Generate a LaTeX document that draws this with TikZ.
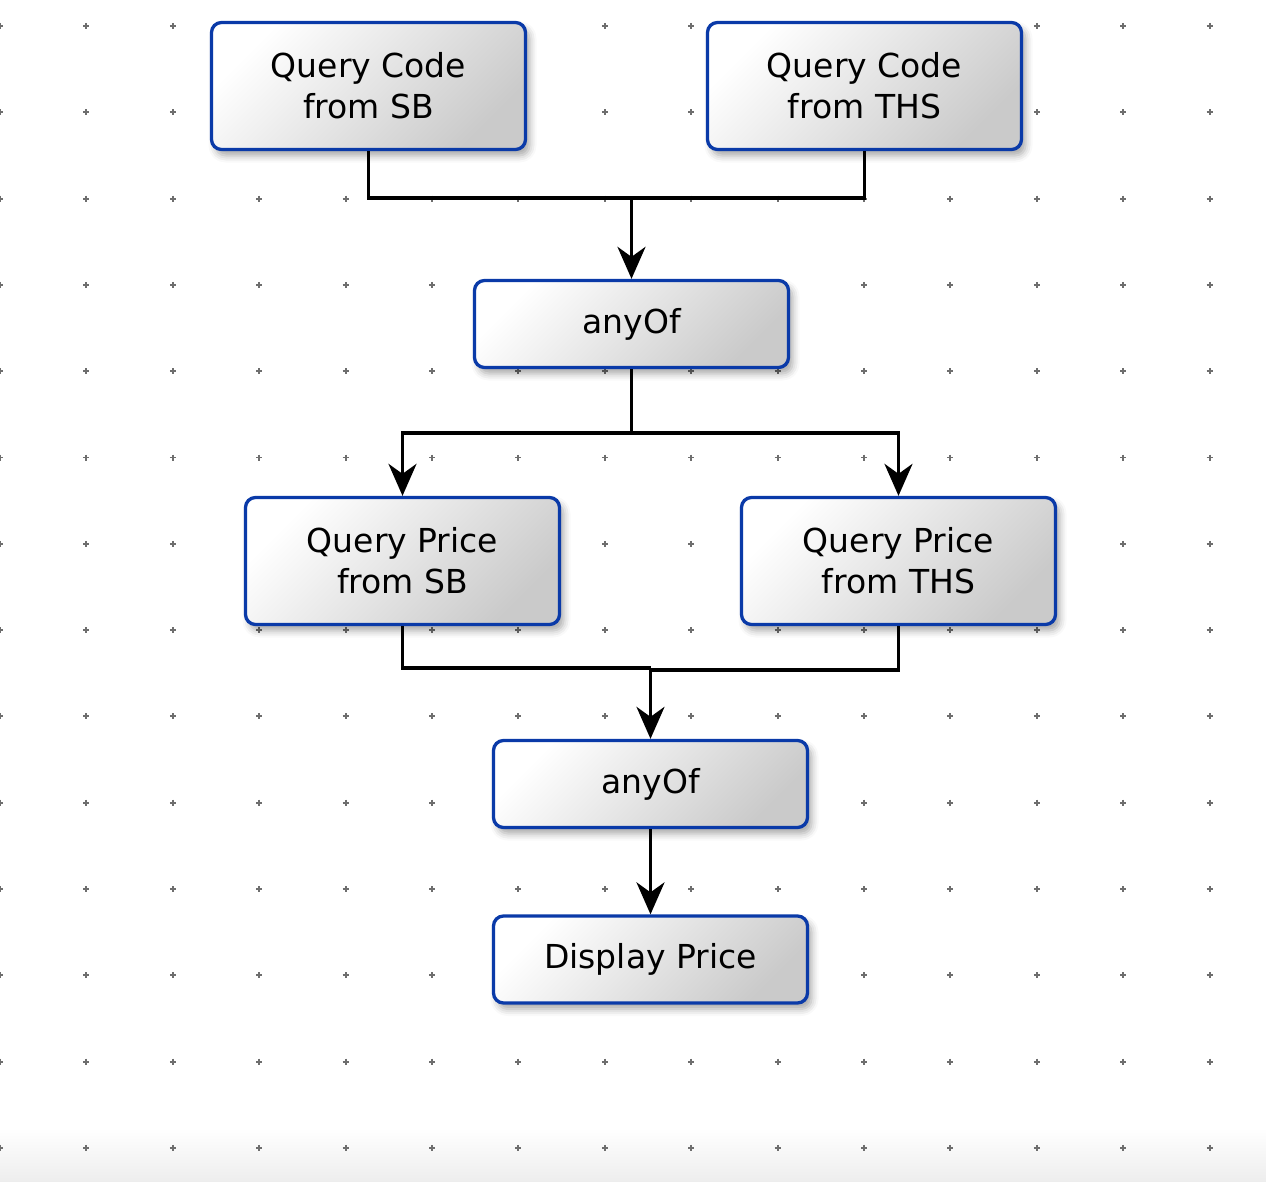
\documentclass[tikz,border=0pt]{standalone}
\usepackage{fontspec}
\setmainfont{DejaVu Sans}
\usetikzlibrary{arrows.meta,shadows.blur}
\definecolor{boxblue}{HTML}{0A3AA8}
\definecolor{boxgray}{HTML}{CACACA}
\definecolor{gridgray}{HTML}{6E6E6E}
\tikzset{
  flowbox/.style={draw=boxblue, line width=3.3pt, rounded corners=10pt,
    top color=white, bottom color=boxgray, shading angle=45,
    minimum width=314pt, align=center, font=\fontsize{33}{41}\selectfont,
    blur shadow={shadow xshift=4pt, shadow yshift=-6pt, shadow blur radius=7pt, shadow opacity=35}},
  tallbox/.style={flowbox, minimum height=127pt},
  lowbox/.style={flowbox, minimum height=87pt},
  conn/.style={line width=3.3pt, black},
  arr/.style={conn, -{Stealth[length=32pt, width=28pt, inset=10pt]}},
}
\begin{document}
\begin{tikzpicture}[x=1pt, y=-1pt]
\useasboundingbox (0,0) rectangle (1266,1182);
% bottom band
\shade[top color=white, bottom color=black!7] (0,1128) rectangle (1266,1182);
% grid crosses
\foreach \i in {0,...,14} {
  \foreach \j in {0,...,13} {
    \draw[gridgray, line width=1.9pt] ({86.4*\i-3},{26+86.3*\j}) -- ({86.4*\i+3},{26+86.3*\j})
      ({86.4*\i},{26+86.3*\j-3}) -- ({86.4*\i},{26+86.3*\j+3});
  }
}
% nodes
\node[tallbox] (qcsb) at (368.5,86) {Query Code\\from SB};
\node[tallbox] (qcths) at (864.5,86) {Query Code\\from THS};
\node[lowbox] (any1) at (631.5,324) {anyOf};
\node[tallbox] (qpsb) at (402.5,561) {Query Price\\from SB};
\node[tallbox] (qpths) at (898.5,561) {Query Price\\from THS};
\node[lowbox] (any2) at (650.5,784) {anyOf};
\node[lowbox] (disp) at (650.5,959.5) {Display Price};
% junctions
\coordinate (j1) at (631.5,198);
\coordinate (j2) at (631.5,433);
\coordinate (j3a) at (650.5,668);
\coordinate (j3b) at (650.5,670);
% connectors
\draw[conn] (qcsb.south) |- (j1) -| (qcths.south);
\draw[arr] (j1) -- (any1.north);
\draw[conn] (any1.south) -- (j2);
\draw[arr] (j2) -| (qpsb.north);
\draw[arr] (j2) -| (qpths.north);
\draw[conn] (qpsb.south) |- (j3a);
\draw[conn] (qpths.south) |- (j3b);
\draw[arr] (j3a) -- (any2.north);
\draw[arr] (any2.south) -- (disp.north);
\end{tikzpicture}
\end{document}
